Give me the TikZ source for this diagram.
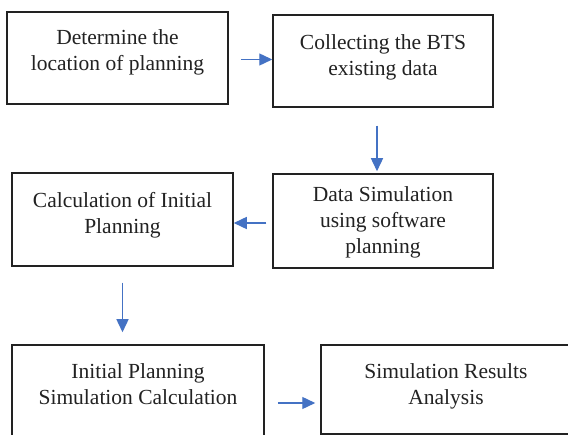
\documentclass[tikz,border=0pt]{standalone}
\usepackage{fontspec}
\setmainfont{Liberation Serif}
\usetikzlibrary{arrows.meta,calc}
\definecolor{flowblue}{RGB}{68,114,196}
\definecolor{inkgray}{RGB}{34,34,34}
\tikzset{
  stepbox/.style={draw=inkgray, line width=1.5pt, rectangle, inner sep=0pt},
  steptext/.style={anchor=north, inner sep=0pt, align=center, text=inkgray,
    font=\fontsize{21.5}{26}\selectfont},
  flowarrow/.style={draw=flowblue, line width=1.4pt,
    -{Triangle[length=13pt,width=12pt]}}
}
\begin{document}
\begin{tikzpicture}[x=1pt,y=-1pt]
\useasboundingbox (0,0) rectangle (568,435);
\clip (0,0) rectangle (568,435);
\fill[white] (0,0) rectangle (568,435);

% process boxes
\node[stepbox, minimum width=221pt, minimum height=92pt] (b1) at (117.5,58) {};
\node[stepbox, minimum width=220pt, minimum height=92pt] (b2) at (383,61) {};
\node[stepbox, minimum width=220pt, minimum height=94pt] (b3) at (383,221) {};
\node[stepbox, minimum width=221pt, minimum height=93pt] (b4) at (122.5,219.5) {};
\node[stepbox, minimum width=252pt, minimum height=110pt] (b5) at (138,400) {};
\node[stepbox, minimum width=250pt, minimum height=89pt] (b6) at (446,389.5) {};

% box captions
\node[steptext] (t1) at ([yshift=-18pt]b1.north) {Determine the\\location of planning};
\node[steptext] (t2) at ([yshift=-20.5pt]b2.north) {Collecting the BTS\\existing data};
\node[steptext] (t3) at ([yshift=-13.5pt]b3.north) {Data Simulation\\using software\\planning};
\node[steptext] (t4) at ([yshift=-19.5pt]b4.north) {Calculation of Initial\\Planning};
\node[steptext] (t5) at ([yshift=-19pt]b5.north) {Initial Planning\\Simulation Calculation};
\node[steptext] (t6) at ([yshift=-19pt]b6.north) {Simulation Results\\Analysis};

% flow arrows
\draw[flowarrow, shorten <=12pt] ([yshift=-1.5pt]b1.east) -- ([yshift=-1.5pt]b1.east -| b2.west);
\draw[flowarrow, shorten <=18pt, shorten >=2pt] ([xshift=-6pt]b2.south) -- ([xshift=-6pt]b3.north);
\draw[flowarrow, shorten <=6pt] ([yshift=-2pt]b3.west) -- ([yshift=-2pt]b3.west -| b4.east);
\draw[flowarrow, shorten <=16pt, shorten >=12pt] (b4.south) -- (b4.south |- b5.north);
\draw[flowarrow, shorten <=13pt, shorten >=5pt] (b5.east |- 0,403) -- (b6.west |- 0,403);
\end{tikzpicture}
\end{document}
